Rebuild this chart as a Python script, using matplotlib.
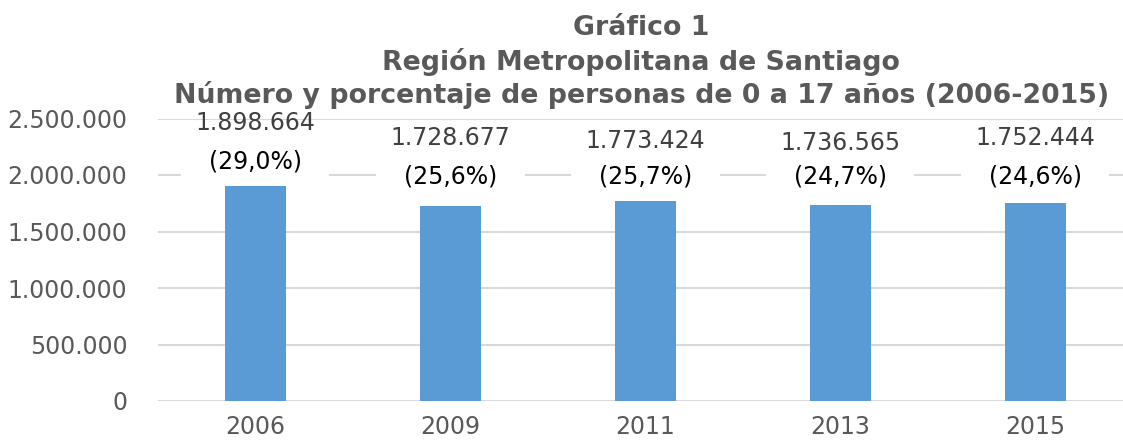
import matplotlib.pyplot as plt
import numpy as np

# Datos
anios = ['2006', '2009', '2011', '2013', '2015']
personas = [1898664, 1728677, 1773424, 1736565, 1752444]
porcentajes = [29.0, 25.6, 25.7, 24.7, 24.6]

def miles(v):
    return f'{v:,.0f}'.replace(',', '.')

fig = plt.figure(figsize=(11.23, 4.42), dpi=100)
ax = fig.add_axes([158 / 1123, 41 / 442, 1 - 158 / 1123, 282.5 / 442])

x = np.arange(len(anios))
ax.bar(x, personas, width=0.315, color='#5B9BD5', zorder=2)

ax.set_ylim(0, 2500000)
ax.set_xlim(-0.5, 4.45)
ax.set_yticks(np.arange(0, 2500001, 500000))
ax.set_yticklabels([miles(v) for v in np.arange(0, 2500001, 500000)])
ax.set_xticks(x)
ax.set_xticklabels(anios)
ax.tick_params(length=0, labelsize=17, labelcolor='#595959', pad=10)
ax.tick_params(axis='y', pad=22)
ax.grid(axis='y', color='#D9D9D9', linewidth=1.5, zorder=0)
for s in ax.spines.values():
    s.set_visible(False)

# posicion de las etiquetas (pixeles sobre la barra)
off_valor = [63, 68, 60, 62, 65]
off_pct = [25, 29, 24, 28, 26]
for i in range(len(anios)):
    ax.annotate(miles(personas[i]), (x[i], personas[i]), xytext=(0, off_valor[i]),
                textcoords='offset pixels', ha='center', va='center',
                fontsize=17, color='#404040', zorder=3)
    pct = f'({porcentajes[i]:.1f}%)'.replace('.', ',')
    ax.annotate('  ' + pct + '  ', (x[i], personas[i]), xytext=(0, off_pct[i]),
                textcoords='offset pixels', ha='center', va='center',
                fontsize=17, color='black', zorder=4,
                bbox=dict(facecolor='white', edgecolor='none', pad=9))

titulo = ['Gráfico 1', 'Región Metropolitana de Santiago',
          'Número y porcentaje de personas de 0 a 17 años (2006-2015)']
for k, t in enumerate(titulo):
    fig.text(0.571, 1 - (28 + 33.5 * k) / 442, t, ha='center', va='center',
             fontsize=19.3, fontweight='bold', color='#595959')

fig.savefig('out.png', dpi=100)
